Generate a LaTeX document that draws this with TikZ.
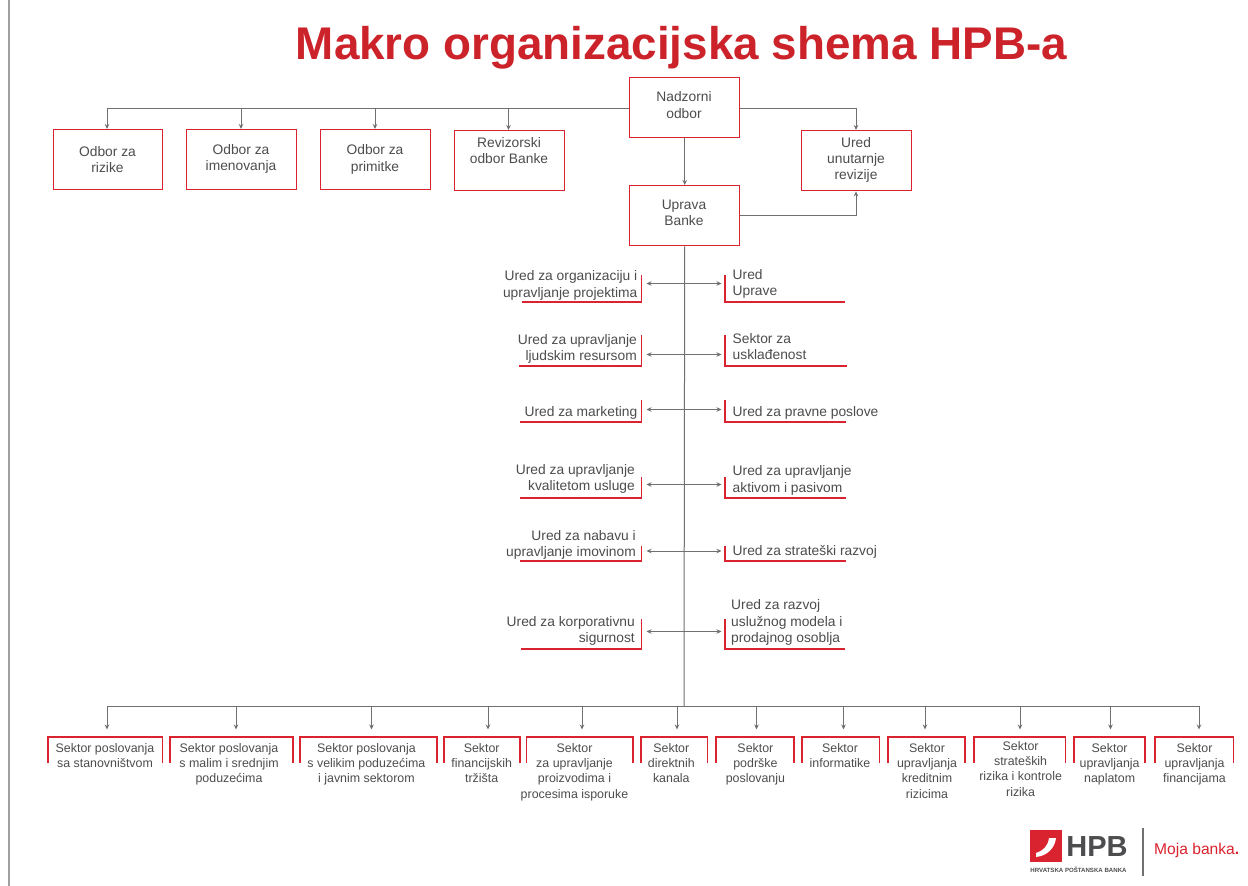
\documentclass[tikz,border=0pt]{standalone}
\usepackage{fontspec}
\setmainfont{Liberation Sans}
\usetikzlibrary{arrows.meta}
\definecolor{hpbred}{HTML}{D9232E}
\definecolor{titlered}{HTML}{CC2229}
\definecolor{txt}{HTML}{4D4D4F}
\definecolor{conn}{HTML}{707070}
\tikzset{
 x=1pt,y=-1pt,
 redbox/.style={draw=hpbred,line width=1.4pt},
 midt/.style={text=txt,font=\fontsize{13.8}{16.3}\selectfont,inner sep=0pt,align=center},
 leftt/.style={text=txt,font=\fontsize{13.8}{16.3}\selectfont,inner sep=0pt,align=right,anchor=east},
 rightt/.style={text=txt,font=\fontsize{13.8}{16.3}\selectfont,inner sep=0pt,align=left,anchor=west},
 smallt/.style={text=txt,font=\fontsize{12.4}{15.3}\selectfont,inner sep=0pt,align=center,anchor=north},
 conline/.style={draw=conn,line width=1pt},
 arr/.style={conline,-{Stealth[length=5pt,width=4.5pt]}},
 darr/.style={conline,{Stealth[length=5pt,width=4.5pt]}-{Stealth[length=5pt,width=4.5pt]}},
}
\newcommand{\topbox}[7]{\node[redbox,minimum width=#3pt-#1pt,minimum height=#4pt-#2pt,inner sep=0pt,anchor=north west] (#5) at (#1,#2) {};\node[midt] (#5t) at (#1/2+#3/2,#7) {#6};}
\begin{document}
\begin{tikzpicture}
\useasboundingbox (0,0) rectangle (1248,886);
\fill[white] (0,0) rectangle (1248,886);
\fill[gray!75] (8,0) rectangle (10,886);
\node[text=titlered,font=\bfseries\fontsize{45.8}{50}\selectfont,inner sep=0pt] (title) at (681.5,48) {Makro organizacijska shema HPB-a};
% top boxes
\topbox{629}{77}{739}{137}{nad}{Nadzorni\\odbor}{105}
\topbox{53}{129}{162}{189}{o1}{Odbor za\\rizike}{159.5}
\topbox{186}{129}{296}{189}{o2}{Odbor za\\imenovanja}{159}
\topbox{320}{129}{430}{189}{o3}{Odbor za\\primitke}{159.5}
\topbox{454}{130}{564}{190}{o4}{Revizorski\\odbor Banke}{150.5}
\topbox{801}{130}{911}{190}{rev}{Ured\\unutarnje\\revizije}{160}
\topbox{629}{185}{739}{245}{upr}{Uprava\\Banke}{213}
\coordinate (jtop) at (107,108);
\draw[conline] (nad.west |- jtop) -- (jtop);
\draw[arr] (jtop) -- (o1.north -| jtop);
\coordinate (j2) at (241,108); \draw[arr] (j2) -- (o2.north -| j2);
\coordinate (j3) at (375,108); \draw[arr] (j3) -- (o3.north -| j3);
\coordinate (j4) at (508.5,108); \draw[arr] (j4) -- (o4.north -| j4);
\coordinate (j5) at (856,108);
\draw[arr] (nad.east |- j5) -- (j5) -- (rev.north -| j5);
\draw[arr] (nad) -- (upr);
\coordinate (j6) at (856,215);
\draw[arr] (upr.east |- j6) -- (j6) -- (rev.south -| j6);
% spine
\coordinate (sb) at (684,706);
\draw[conline] (upr.south) -- (sb);
% middle rows: top, bottom, free end, name, text, text x, text y
\newcommand{\lbr}[7]{\draw[redbox] (641.5,#1) -- (641.5,#2) -- (#3,#2);\node[leftt] (#4) at (#6,#7) {#5};}
\newcommand{\rbr}[7]{\draw[redbox] (725,#1) -- (725,#2) -- (#3,#2);\node[rightt] (#4) at (#6,#7) {#5};}
\newcommand{\rw}[3]{\coordinate (#2) at (646.5,#1);\coordinate (#3) at (721.5,#1);\draw[darr] (#2) -- (#3);}
\lbr{275}{302}{522}{l1}{Ured za organizaciju i\\upravljanje projektima}{637.5}{285.5}
\rbr{275}{302}{845}{r1}{Ured\\Uprave}{732.5}{284}
\rw{283.5}{a1}{b1}
\lbr{335}{366}{519}{l2}{Ured za upravljanje\\ljudskim resursom}{637}{349}
\rbr{335}{366}{847}{r2}{Sektor za\\usklađenost}{732.5}{346.5}
\rw{354.5}{a2}{b2}
\lbr{400}{422}{520}{l3}{Ured za marketing}{637.5}{412.5}
\rbr{400}{422}{846}{r3}{Ured za pravne poslove}{732.5}{413}
\rw{409.5}{a3}{b3}
\lbr{477}{498}{520}{l4}{Ured za upravljanje\\kvalitetom usluge}{635}{479}
\rbr{477}{498}{846}{r4}{Ured za upravljanje\\aktivom i pasivom}{732.5}{480.5}
\rw{484.5}{a4}{b4}
\lbr{546}{561}{520}{l5}{Ured za nabavu i\\upravljanje imovinom}{636}{545}
\rbr{546}{561}{846}{r5}{Ured za strateški razvoj}{732.5}{552}
\rw{551}{a5}{b5}
\lbr{619}{649}{521}{l6}{Ured za korporativnu\\sigurnost}{635}{631}
\rbr{619}{649}{845}{r6}{Ured za razvoj\\uslužnog modela i\\prodajnog osoblja}{731}{622.5}
\rw{631.5}{a6}{b6}
% bottom
\coordinate (bl) at (107,706);
\coordinate (br) at (1199,706);
\draw[conline] (bl) -- (br);
\newcommand{\sect}[7]{%
 \draw[redbox] (#1,763) -- (#1,737) -- (#2,737) -- (#2,763);
 \coordinate (h#5) at (#3,706);\coordinate (t#5) at (#3,729.5);
 \draw[arr] (h#5) -- (t#5);
 \node[smallt] (s#5) at (#7,#4) {#6};}
\sect{48}{162.5}{107}{743}{a}{Sektor poslovanja\\sa stanovništvom}{105}
\sect{170}{293}{236}{743}{b}{Sektor poslovanja\\s malim i srednjim\\poduzećima}{229}
\sect{300}{437}{371.5}{743}{c}{Sektor poslovanja\\s velikim poduzećima\\i javnim sektorom}{366.4}
\sect{444}{520}{488}{743}{d}{Sektor\\financijskih\\tržišta}{481.7}
\sect{526.5}{633}{582}{743}{e}{Sektor\\za upravljanje\\proizvodima i\\procesima isporuke}{574.5}
\sect{641}{707.5}{677}{743}{f}{Sektor\\direktnih\\kanala}{671.3}
\sect{716}{794}{756.5}{743}{g}{Sektor\\podrške\\poslovanju}{755.4}
\sect{802}{879.5}{843.5}{743}{h}{Sektor\\informatike}{840}
\sect{888}{965}{925}{743}{i}{Sektor\\upravljanja\\kreditnim\\rizicima}{927}
\sect{974}{1065.5}{1020}{741}{j}{Sektor\\strateških\\rizika i kontrole\\rizika}{1020.6}
\sect{1074}{1145}{1110.5}{743}{k}{Sektor\\upravljanja\\naplatom}{1109.6}
\sect{1155}{1233.5}{1199}{743}{l}{Sektor\\upravljanja\\financijama}{1194.5}
% logo
\fill[hpbred] (1030,829.5) rectangle (1062,862);
\fill[white] (1036,853) .. controls (1043,851) and (1048,846) .. (1049,838) -- (1056,838) .. controls (1055,848) and (1047,856) .. (1036,857) -- cycle;
\node[text=txt,font=\bfseries\fontsize{29}{30}\selectfont,inner sep=0pt] (hpb) at (1097,847) {HPB};
\node[text=txt,font=\bfseries\fontsize{6.1}{7}\selectfont,inner sep=0pt] (hpbs) at (1078.5,870) {HRVATSKA POŠTANSKA BANKA};
\draw[conn,line width=1.3pt] (1143,828) -- (1143,876);
\node[text=hpbred,font=\fontsize{15.6}{18}\selectfont,inner sep=0pt,anchor=west] (moja) at (1154,850.5) {Moja banka\textbf{.}};
\end{tikzpicture}
\end{document}
